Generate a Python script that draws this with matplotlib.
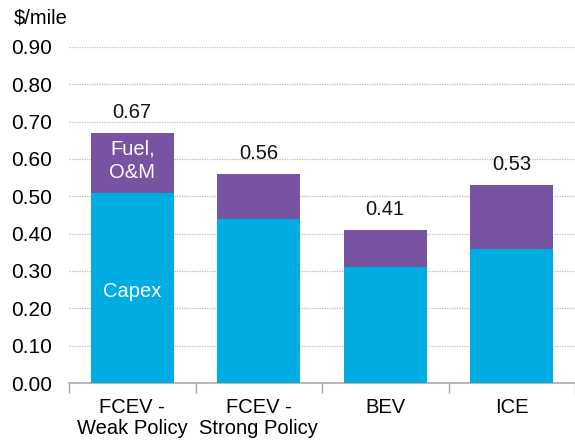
import numpy as np
import matplotlib.pyplot as plt

categories = ['FCEV -\nWeak Policy', 'FCEV -\nStrong Policy', 'BEV', 'ICE']
capex = [0.51, 0.44, 0.31, 0.36]
fuel_om = [0.16, 0.12, 0.10, 0.17]
totals = [0.67, 0.56, 0.41, 0.53]

cyan = '#00ADE2'
purple = '#7853A2'

plt.rcParams['font.family'] = ['Liberation Sans', 'DejaVu Sans']

fig = plt.figure(figsize=(5.75, 4.44), dpi=100)
ax = fig.add_axes([69/575, 61/444, (575-69)/575, (383-47)/444])

x = np.arange(len(categories))
ax.bar(x, capex, width=0.66, color=cyan, zorder=3)
ax.bar(x, fuel_om, bottom=capex, width=0.66, color=purple, zorder=3)

for i, t in enumerate(totals):
    ax.annotate('%.2f' % t, (x[i], t), xytext=(0, 8), textcoords='offset points',
                ha='center', va='bottom', fontsize=14.5, color='#111111')

ax.text(x[0], capex[0] / 2 - 0.01, 'Capex', ha='center', va='center',
        color='white', fontsize=14.5, zorder=4)
ax.text(x[0], capex[0] + fuel_om[0] / 2 + 0.005, 'Fuel,\nO&M', ha='center', va='center',
        color='white', fontsize=14.5, zorder=4, linespacing=1.35)

ax.set_xlim(-0.5, -0.5 + 506 / 128.3)
ax.set_ylim(0, 0.9)
ax.set_yticks(np.arange(0, 0.91, 0.1))
ax.set_yticklabels(['%.2f' % v for v in np.arange(0, 0.91, 0.1)], fontsize=15)
ax.tick_params(axis='y', length=0, pad=12)
ax.yaxis.grid(True, linestyle=(0, (1, 1)), color='#BBBBBB', linewidth=0.9, zorder=0)

ax.set_xticks(x)
ax.set_xticklabels(categories, fontsize=14.5, linespacing=1.1)
ax.set_xticks(np.arange(-0.5, 4.0, 1), minor=True)
ax.tick_params(axis='x', which='major', length=0, pad=11)
ax.tick_params(axis='x', which='minor', length=7, color='#AAAAAA', width=1)

for s in ['left', 'right', 'top']:
    ax.spines[s].set_visible(False)
ax.spines['bottom'].set_color('#AAAAAA')
ax.spines['bottom'].set_linewidth(1.2)

fig.text(14/575, 1 - 18/444, '$/mile', fontsize=14.5, va='center', ha='left')

fig.savefig('out.png', dpi=100)
